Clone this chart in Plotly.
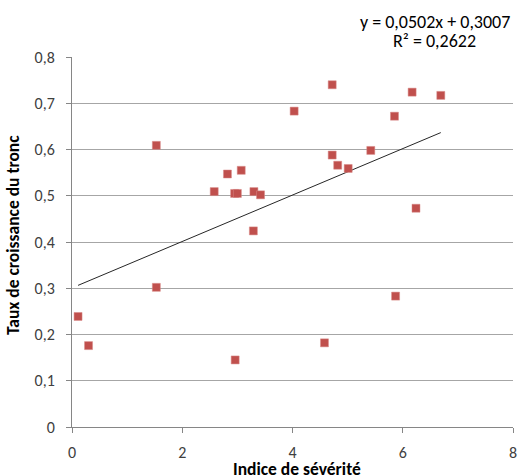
import plotly.graph_objects as go

# Data
severity = [0.11, 0.30, 1.53, 1.53, 2.58, 2.82, 3.07, 2.95, 3.00, 3.30, 3.42, 3.29,
            2.96, 4.03, 4.72, 4.72, 4.82, 5.01, 5.42, 5.85, 6.17, 6.69, 6.24, 5.87, 4.58]
growth = [0.239, 0.176, 0.302, 0.609, 0.509, 0.547, 0.555, 0.505, 0.505, 0.509, 0.502, 0.424,
          0.145, 0.683, 0.740, 0.588, 0.566, 0.559, 0.598, 0.672, 0.724, 0.717, 0.473, 0.283, 0.182]

slope = 0.0502
intercept = 0.3007
equation_text = "y = 0,0502x + 0,3007"
r2_text = "R² = 0,2622"

x_ticks = [0, 2, 4, 6, 8]
x_ticktext = ["0", "2", "4", "6", "8"]
y_ticks = [0, 0.1, 0.2, 0.3, 0.4, 0.5, 0.6, 0.7, 0.8]
y_ticktext = ["0", "0,1", "0,2", "0,3", "0,4", "0,5", "0,6", "0,7", "0,8"]

x_title = "Indice de sévérité"
y_title = "Taux de croissance du tronc"

FONT = "Carlito, Calibri, Lato, sans-serif"

trend_x = [min(severity), max(severity)]
trend_y = [slope * v + intercept for v in trend_x]

fig = go.Figure()
fig.add_trace(go.Scatter(
    x=trend_x, y=trend_y, mode="lines",
    line=dict(color="#262626", width=1), hoverinfo="skip", showlegend=False))
fig.add_trace(go.Scatter(
    x=severity, y=growth, mode="markers",
    marker=dict(symbol="square", size=8, color="#C0504D",
                line=dict(color="#d98b89", width=0.5)),
    showlegend=False))

fig.update_layout(
    width=522, height=475,
    margin=dict(l=72, r=5, t=57, b=48),
    paper_bgcolor="white", plot_bgcolor="white",
    font=dict(family=FONT, size=16, color="#000000"),
    xaxis=dict(range=[0, 8], tickvals=x_ticks, ticktext=x_ticktext,
               showgrid=False, zeroline=False, showline=True, linecolor="#868686",
               linewidth=1, ticks="outside", ticklen=5, tickcolor="#868686",
               ticklabelstandoff=6, ticklabeloverflow="allow",
               tickfont=dict(size=16, color="#404040")),
    yaxis=dict(range=[0, 0.8], tickvals=y_ticks, ticktext=y_ticktext,
               showgrid=True, gridcolor="#a6a6a6", gridwidth=1, zeroline=False,
               showline=True, linecolor="#868686", linewidth=1,
               ticks="outside", ticklen=5, tickcolor="#868686",
               ticklabelstandoff=8,
               tickfont=dict(size=16, color="#404040")),
    annotations=[
        dict(text="<b>" + x_title + "</b>", xref="paper", yref="paper", x=0.51, y=0,
             xanchor="center", yanchor="top", yshift=-29, showarrow=False,
             font=dict(size=17.5, color="#000000")),
        dict(text="<b>" + y_title + "</b>", xref="paper", yref="paper", x=0, y=0.5,
             xanchor="right", yanchor="middle", xshift=-46, yshift=7, textangle=-90,
             showarrow=False, font=dict(size=17.5, color="#000000")),
        dict(text=equation_text, xref="paper", yref="paper", x=0.822, y=1.0,
             xanchor="center", yanchor="middle", yshift=35, showarrow=False,
             font=dict(size=18, color="#000000")),
        dict(text=r2_text, xref="paper", yref="paper", x=0.822, y=1.0,
             xanchor="center", yanchor="middle", yshift=16, showarrow=False,
             font=dict(size=18, color="#000000")),
    ],
)

fig.write_html(
    "out.html",
    config={"displayModeBar": False},
    post_script="document.body.style.margin='0';document.body.style.overflow='hidden';",
)
